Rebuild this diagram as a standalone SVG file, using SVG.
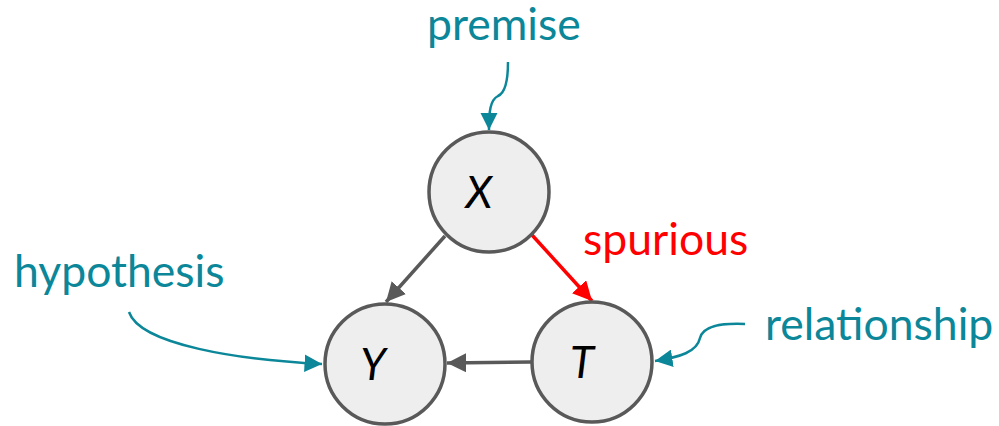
<svg xmlns="http://www.w3.org/2000/svg" width="999" height="426" viewBox="0 0 999 426">
  <style>
    .node circle { fill: #eeeeee; stroke: #595959; stroke-width: 3.5; }
    .node text { font-family: Lato, "Liberation Sans", sans-serif; font-style: italic; font-size: 44px; fill: #000; text-anchor: middle; }
    .lbl { font-family: Lato, "Liberation Sans", sans-serif; font-size: 44.5px; fill: #0b8799; }
    .edge { fill: none; stroke: #595959; stroke-width: 3.5; }
    .edge.red { stroke: #ff0000; }
    .note { fill: none; stroke: #0b8799; stroke-width: 2.5; }
  </style>
  <defs>
    <marker id="gray" viewBox="0 0 10 10" refX="10" refY="5" markerWidth="5.5" markerHeight="5.5" markerUnits="strokeWidth" orient="auto">
      <path d="M0,0 L10,5 L0,10 Z" fill="#595959"/>
    </marker>
    <marker id="red" viewBox="0 0 10 10" refX="10" refY="5" markerWidth="5.5" markerHeight="5.5" markerUnits="strokeWidth" orient="auto">
      <path d="M0,0 L10,5 L0,10 Z" fill="#ff0000"/>
    </marker>
    <marker id="teal" viewBox="0 0 10 10" refX="10" refY="5" markerWidth="7" markerHeight="7" markerUnits="strokeWidth" orient="auto">
      <path d="M0,0 L10,5 L0,10 Z" fill="#0b8799"/>
    </marker>
  </defs>

  <!-- labels -->
  <text class="lbl" x="427" y="40">premise</text>
  <text class="lbl" x="14" y="287">hypothesis</text>
  <text class="lbl" x="765" y="340">relationship</text>
  <text class="lbl" x="583" y="255" style="fill:#ff0000">spurious</text>

  <!-- connectors -->
  <g id="connectors">
    <path class="edge" d="M445,236 L386,302" marker-end="url(#gray)"/>
    <path class="edge red" d="M532,235 L592,301" marker-end="url(#red)"/>
    <path class="edge" d="M531,362 L447,363" marker-end="url(#gray)"/>
    <path class="note" d="M508,62 C508,82 505,93 498,96 C490,100 489,112 489,130" marker-end="url(#teal)"/>
    <path class="note" d="M129,312 C140,345 240,360 322,364" marker-end="url(#teal)"/>
    <path class="note" d="M745,324 C720,323 703,326 700,338 C697,352 680,357 655,361" marker-end="url(#teal)"/>
  </g>

  <!-- nodes -->
  <g id="node-X" class="node">
    <circle cx="489" cy="192" r="60"/>
    <text x="479" y="208">X</text>
  </g>
  <g id="node-Y" class="node">
    <circle cx="385" cy="364" r="60"/>
    <text x="373" y="380">Y</text>
  </g>
  <g id="node-T" class="node">
    <circle cx="592" cy="362" r="60"/>
    <text x="582" y="378">T</text>
  </g>
</svg>
